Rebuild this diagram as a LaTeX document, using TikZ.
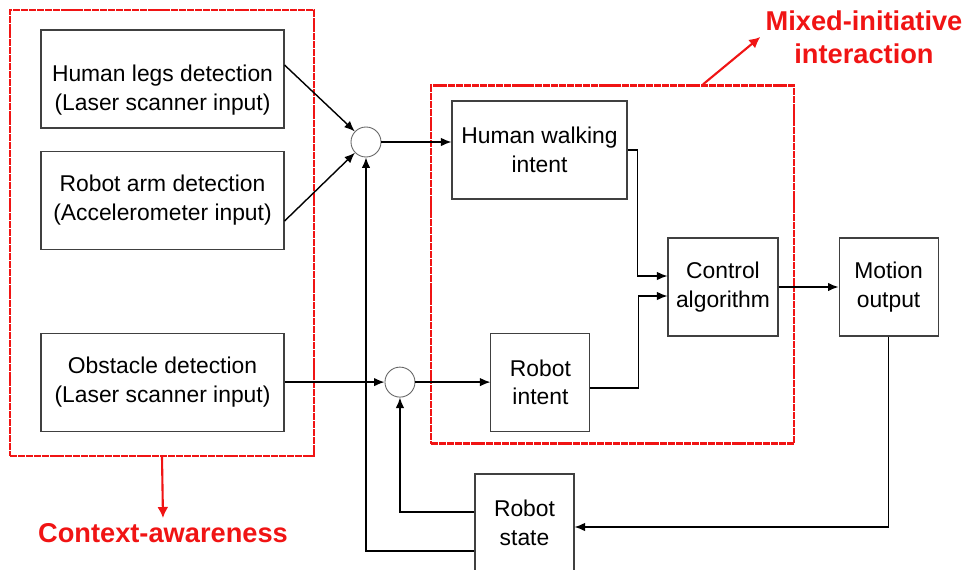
\documentclass[tikz,border=0pt]{standalone}
\usepackage{fontspec}
\setmainfont{Liberation Sans}
\usepackage{tikz}
\usepackage{xcolor}
\usetikzlibrary{calc}
\usetikzlibrary{positioning}
\usetikzlibrary{shapes,arrows,arrows.meta}
\definecolor{markRed}{RGB}{240,20,20}
\begin{document}
\begin{tikzpicture} [>={Latex[length=2.1mm,width=1.7mm]}, node distance = 2cm]
            \useasboundingbox (0,0) rectangle (19.3,-11.4);
            % Set primary nodes
            \tikzset{
                sensorNode/.style={
                        draw=black!75,
                        line width=0.6pt,
                        rectangle,
                        align=center,
                        font=\fontsize{13}{16.2}\selectfont,
                        minimum height=1.96cm,
                        minimum width=4.86cm
                    }
            }
            \tikzset{
                blockNode/.style={
                        draw=black!75,
                        line width=0.6pt,
                        rectangle,
                        align=center,
                        font=\fontsize{13}{16.2}\selectfont,
                        minimum height=1.96cm,
                        minimum width=1.98cm
                    }
            }
            \tikzset{
                sumNode/.style={
                        draw=black!60,
                        line width=0.5pt,
                        circle,
                        minimum size=0.6cm
                    }
            }
            \tikzset{
                regionNode/.style={
                        draw=markRed,
                        line width=1.3pt,
                        dash pattern=on 4pt off 0.5pt,
                        rectangle
                    }
            }
            \tikzset{
                markLabel/.style={
                        text=markRed,
                        align=center,
                        inner sep=0.1cm,
                        font=\fontsize{15.5}{18.7}\selectfont\bfseries
                    }
            }
            % Configure arrows
            \tikzset{arrow/.style={line width=0.8pt, ->}}
            \tikzset{markArrow/.style={draw=markRed, line width=1.2pt, -{Latex[length=2.2mm,width=2.2mm]}}}
            % Placing regions
            \node[regionNode, minimum width=6.08cm, minimum height=8.92cm](context) at (3.24,-4.66){};
            \node[regionNode, minimum width=7.26cm, minimum height=7.16cm](interaction) at (12.25,-5.29){};
            \node[markLabel](mixedLabel) at (17.28,-0.74){Mixed-initiative\\interaction};
            \node[markLabel](contextLabel) at (3.26,-10.66){Context-awareness};
            % Placing nodes
            \node[sensorNode, label={[align=center, font=\fontsize{13}{16.2}\selectfont, yshift=-0.22cm]center:Human legs detection\\(Laser scanner input)}](legs) at (3.25,-1.58){};
            \node[sensorNode, below = 0.44cm of legs](arm){Robot arm detection\\(Accelerometer input)};
            \node[sensorNode, below = 1.66cm of arm](obstacle){Obstacle detection\\(Laser scanner input)};
            \node[sumNode](sum1) at (7.32,-2.84){};
            \node[sumNode, right = 2cm of obstacle](sum2){};
            \node[blockNode, minimum width=3.5cm](walking) at (10.79,-3.0){Human walking\\intent};
            \node[blockNode, right = 1.5cm of sum2](intent){Robot\\intent};
            \node[blockNode, minimum width=2.2cm](control) at (14.46,-5.74){Control\\algorithm};
            \node[blockNode, right = 1.2cm of control](motion){Motion\\output};
            \node[blockNode](state) at (10.49,-10.46){Robot\\state};
            % Draw arrows
            \draw[arrow]([yshift=0.28cm]legs.east) -- (sum1);
            \draw[arrow]([yshift=-0.42cm]arm.east) -- (sum1);
            \draw[arrow](sum1.east) -- (sum1.east -| walking.west);
            \draw[arrow](walking.east) -- ++(0.2,0) |- ([yshift=0.22cm]control.west);
            \draw[arrow]([yshift=-0.12cm]intent.east) -- ++(0.96,0) |- ([yshift=-0.18cm]control.west);
            \draw[arrow](control.east) -- (motion.west);
            \draw[arrow](motion.south) |- ([yshift=-0.08cm]state.east);
            \draw[arrow]([yshift=0.22cm]state.west) -| (sum2.south);
            \draw[arrow]([yshift=-0.56cm]state.west) -| (sum1.south);
            \draw[arrow](obstacle.east) -- (sum2.west);
            \draw[arrow](sum2.east) -- (intent.west);
            \draw[markArrow]([xshift=1.81cm]interaction.north) -- (mixedLabel.west);
            \draw[markArrow](context.south) -- (contextLabel.north);
        \end{tikzpicture}
\end{document}
